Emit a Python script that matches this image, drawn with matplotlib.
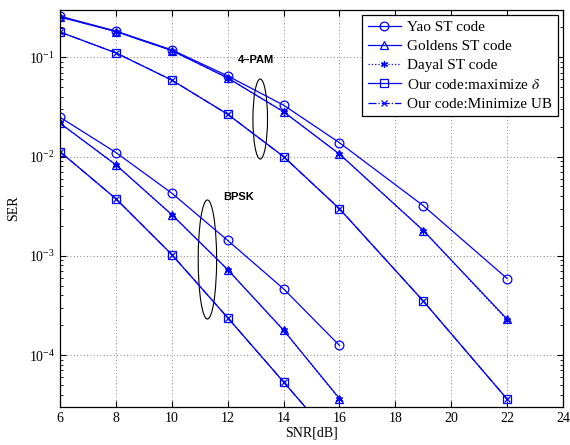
import numpy as np
import matplotlib
matplotlib.use("Agg")
import matplotlib.pyplot as plt
from matplotlib.patches import Ellipse
from matplotlib.ticker import LogLocator, NullFormatter

plt.rcParams["font.family"] = ["Liberation Serif", "DejaVu Serif"]
plt.rcParams["mathtext.fontset"] = "stix"

# 4-PAM results
snr_pam = [6, 8, 10, 12, 14, 16, 19, 22]
yao_pam = [0.26, 0.184, 0.119, 0.065, 0.033, 0.0138, 0.0032, 5.9e-4]
goldens_pam = [0.255, 0.182, 0.117, 0.062, 0.0283, 0.0106, 0.0018, 2.3e-4]
dayal_pam = [0.255, 0.182, 0.117, 0.062, 0.0283, 0.0106, 0.0018, 2.25e-4]
ours_delta_pam = [0.18, 0.111, 0.059, 0.0267, 0.0100, 0.00298, 3.5e-4, 3.6e-5]
ours_ub_pam = [0.18, 0.111, 0.059, 0.0267, 0.0100, 0.00298, 3.5e-4, 3.6e-5]

# BPSK results
snr_bpsk = [6, 8, 10, 12, 14, 16]
yao_bpsk = [0.0249, 0.011, 0.00428, 0.00143, 4.65e-4, 1.25e-4]
goldens_bpsk = [0.0217, 0.00826, 0.0026, 7.26e-4, 1.78e-4, 3.65e-5]
dayal_bpsk = [0.0217, 0.00826, 0.0026, 7.26e-4, 1.78e-4, 3.6e-5]
ours_delta_bpsk = [0.0112, 0.00376, 0.00103, 2.38e-4, 5.36e-5, 1.2e-5]
ours_ub_bpsk = [0.0112, 0.00376, 0.00103, 2.38e-4, 5.36e-5, 1.2e-5]

blue = (0, 0, 1)

fig = plt.figure(figsize=(5.7, 4.45), dpi=100)
ax = fig.add_axes([0.1053, 0.0854, 0.8825, 0.8921])

styles = [
    ("Yao ST code", dict(marker="o", linestyle="-", markersize=6.3)),
    ("Goldens ST code", dict(marker="^", linestyle="-", markersize=6.0)),
    ("Dayal ST code", dict(marker=(6, 2, 0), linestyle=":", markersize=5.0)),
    ("Our code:maximize $\\delta$", dict(marker="s", linestyle="-", markersize=5.4)),
    ("Our code:Minimize UB", dict(marker="x", linestyle="-.", markersize=4.2)),
]
pam_sets = [yao_pam, goldens_pam, dayal_pam, ours_delta_pam, ours_ub_pam]
bpsk_sets = [yao_bpsk, goldens_bpsk, dayal_bpsk, ours_delta_bpsk, ours_ub_bpsk]

for (label, st), pam, bpsk in zip(styles, pam_sets, bpsk_sets):
    kw = dict(color=blue, lw=0.9, markerfacecolor="none",
              markeredgecolor=blue, markeredgewidth=0.9, **st)
    ax.plot(snr_pam, pam, label=label, **kw)
    ax.plot(snr_bpsk, bpsk, **kw)

ax.set_yscale("log")
ax.set_xlim(6, 24)
ax.set_ylim(3e-5, 0.3)
ax.set_xticks(np.arange(6, 25, 2))
ax.yaxis.set_major_locator(LogLocator(base=10, numticks=10))
ax.yaxis.set_minor_locator(LogLocator(base=10, subs=np.arange(2, 10), numticks=10))
ax.yaxis.set_minor_formatter(NullFormatter())

ax.grid(True, which="major", linestyle=(0, (1, 3)), color="0.35", lw=0.6)
ax.tick_params(which="both", direction="in", top=True, right=True, labelsize=10)
ax.tick_params(which="major", length=4)
ax.tick_params(which="minor", length=2)
for s in ax.spines.values():
    s.set_linewidth(0.9)

ax.set_xlabel("SNR[dB]", fontsize=10, labelpad=1)
ax.set_ylabel("SER", fontsize=10, labelpad=6)

ax.add_patch(Ellipse((0.398, 0.7254), 0.029, 0.2015, transform=ax.transAxes,
                     fill=False, edgecolor="black", lw=0.8))
ax.add_patch(Ellipse((0.293, 0.3715), 0.0366, 0.30, transform=ax.transAxes,
                     fill=False, edgecolor="black", lw=0.8))
ax.text(0.39, 0.874, "4\u2013PAM", transform=ax.transAxes, ha="center", va="center",
        fontsize=8, fontweight="bold", family=["Liberation Sans", "DejaVu Sans"])
ax.text(0.356, 0.53, "BPSK", transform=ax.transAxes, ha="center", va="center",
        fontsize=8, fontweight="bold", family=["Liberation Sans", "DejaVu Sans"])

leg = ax.legend(loc="upper right", fontsize=11, fancybox=False, framealpha=1,
                edgecolor="black", handlelength=2.2, borderaxespad=0.35,
                labelspacing=0.35, borderpad=0.35, handletextpad=0.4)
leg.get_frame().set_linewidth(0.9)

fig.savefig("out.png", dpi=100)
